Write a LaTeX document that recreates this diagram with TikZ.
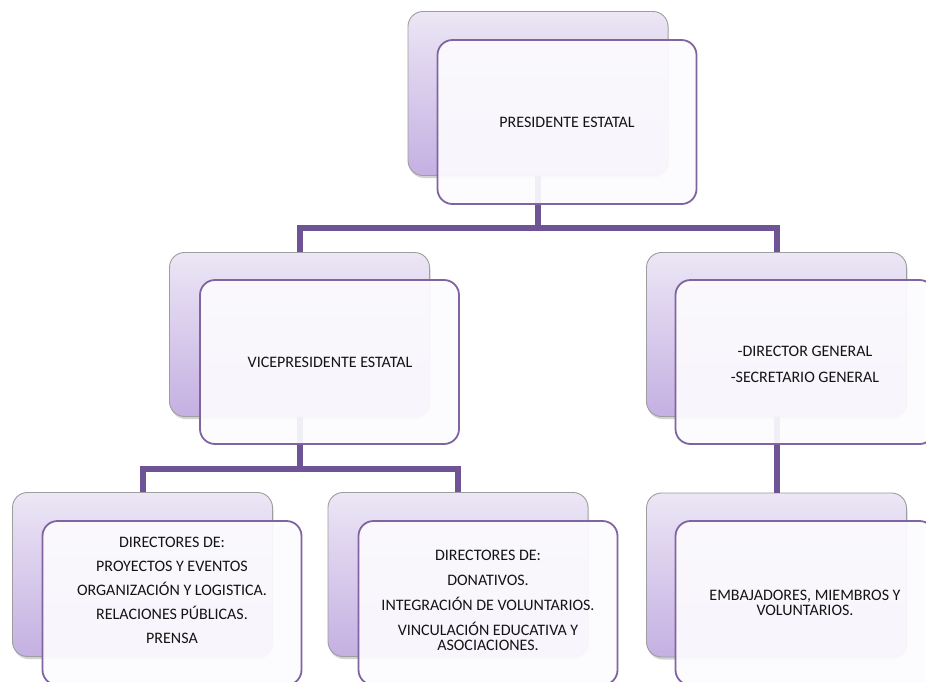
\documentclass[tikz,border=0pt]{standalone}
\usepackage{fontspec}
\setmainfont{Carlito}
\usetikzlibrary{shadows}
\definecolor{connc}{RGB}{110,84,148}
\definecolor{frontc}{RGB}{128,100,162}
\definecolor{backtop}{RGB}{236,230,245}
\definecolor{backbot}{RGB}{196,176,226}
\definecolor{frontfill}{RGB}{252,251,254}
\definecolor{txtc}{RGB}{20,20,20}
\tikzset{
  backbox/.style={rectangle, rounded corners=15pt, minimum width=260pt, minimum height=164pt,
    draw=black!38, line width=0.9pt, top color=backtop, bottom color=backbot,
    drop shadow={opacity=0.35, shadow xshift=1pt, shadow yshift=-2.5pt}},
  frontbox/.style={rectangle, rounded corners=15pt, minimum width=259pt, minimum height=164pt,
    draw=frontc, line width=1.8pt, fill=frontfill, fill opacity=0.93, draw opacity=1},
  conn/.style={draw=connc, line width=6pt},
  lbl/.style={align=center, text=txtc, font=\fontsize{16}{15}\selectfont, inner sep=0pt}
}
\begin{document}
\begin{tikzpicture}[x=1pt,y=-1pt]
\useasboundingbox[fill=white] (0,0) rectangle (926,681);
% back boxes
\node[backbox] (b1) at (538,93.5) {};
\node[backbox] (b2) at (299.5,334.5) {};
\node[backbox] (b3) at (776.5,334.5) {};
\node[backbox] (b4) at (142.5,574.5) {};
\node[backbox] (b5) at (458,574.5) {};
\node[backbox] (b6) at (776.5,575) {};
% junctions
\coordinate (j1) at (538,228);
\coordinate (j2) at (299.5,469);
% connectors
\draw[conn] (b1.south) -- (j1) -| (b2.north);
\draw[conn] (j1) -| (b3.north);
\draw[conn] (b2.south) -- (j2) -| (b4.north);
\draw[conn] (j2) -| (b5.north);
\draw[conn] (b3.south) -- (b6.north);
% front boxes
\node[frontbox] (f1) at (567,122) {};
\node[frontbox] (f2) at (329.5,362) {};
\node[frontbox] (f3) at (805,362) {};
\node[frontbox] (f4) at (172,603) {};
\node[frontbox] (f5) at (488,603) {};
\node[frontbox] (f6) at (805,603) {};
% texts
\node[lbl] (t1) at (567,122) {PRESIDENTE ESTATAL};
\node[lbl] (t2) at (330,362) {VICEPRESIDENTE ESTATAL};
\node[lbl] (t3) at (805,364) {-DIRECTOR GENERAL\\[11pt]-SECRETARIO GENERAL};
\node[lbl] (t4) at (172,590) {DIRECTORES DE:\\[9pt] PROYECTOS Y EVENTOS\\[9pt]ORGANIZACIÓN Y LOGISTICA.\\[9pt]RELACIONES PÚBLICAS.\\[9pt]PRENSA};
\node[lbl] (t5) at (488,600) {DIRECTORES DE:\\[10pt]DONATIVOS.\\[10pt]INTEGRACIÓN DE VOLUNTARIOS.\\[10pt]VINCULACIÓN EDUCATIVA Y\\ASOCIACIONES.};
\node[lbl] (t6) at (805,603) {EMBAJADORES, MIEMBROS Y\\VOLUNTARIOS.};
\end{tikzpicture}
\end{document}
